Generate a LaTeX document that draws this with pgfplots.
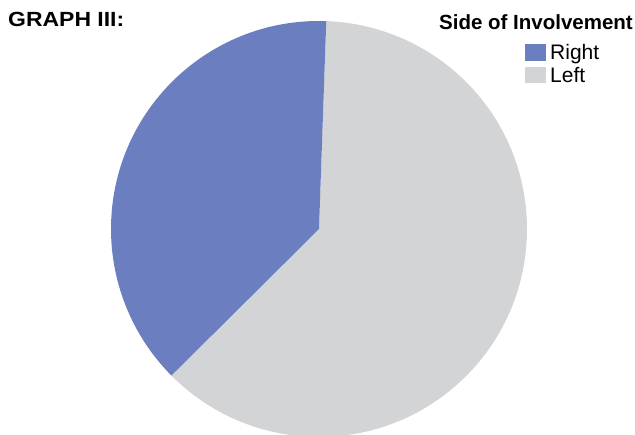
\documentclass[border=0pt]{standalone}
\usepackage{pgfplots}
\pgfplotsset{compat=1.18}
\usepackage{fontspec}
\setmainfont{Liberation Sans}
\definecolor{rightc}{HTML}{6B7EBF}
\definecolor{leftc}{HTML}{D3D4D6}
\begin{document}
\begin{tikzpicture}
% data: percentage of cases
\def\valRight{38}
\def\valLeft{62}
\pgfmathsetmacro{\startA}{88.0}
\pgfmathsetmacro{\midA}{\startA+3.6*\valRight}
\pgfmathsetmacro{\endA}{\midA+3.6*\valLeft}
\begin{axis}[
  scale only axis, width=635pt, height=435pt,
  xmin=0, xmax=635, ymin=0, ymax=435,
  hide axis, clip=true,
]
\addplot[draw=none, forget plot] coordinates {(0,0) (635,435)};
\fill[leftc] (axis cs:319,206) -- ++(\midA:208pt) arc[start angle=\midA, end angle=\endA, radius=208pt] -- cycle;
\fill[rightc] (axis cs:319,206) -- ++(\startA:208pt) arc[start angle=\startA, end angle=\midA, radius=208pt] -- cycle;
\end{axis}
\begin{axis}[
  scale only axis, width=635pt, height=435pt,
  xmin=0, xmax=635, ymin=0, ymax=435,
  hide axis, clip=false,
]
\node[anchor=base west, inner sep=0, font=\fontsize{20.5}{25}\selectfont\bfseries] at (axis cs:8,408) {\scalebox{1.12}[1]{GRAPH III:}};
\node[anchor=base east, inner sep=0, font=\fontsize{20.5}{25}\selectfont\bfseries] at (axis cs:633,405) {Side of Involvement};
\fill[rightc] (axis cs:525,374) rectangle (axis cs:546,391);
\fill[leftc] (axis cs:525,352) rectangle (axis cs:546,368);
\node[anchor=base west, inner sep=0, font=\fontsize{21}{25}\selectfont] at (axis cs:550,375) {Right};
\node[anchor=base west, inner sep=0, font=\fontsize{21}{25}\selectfont] at (axis cs:550,352) {Left};
\end{axis}
\end{tikzpicture}
\end{document}
